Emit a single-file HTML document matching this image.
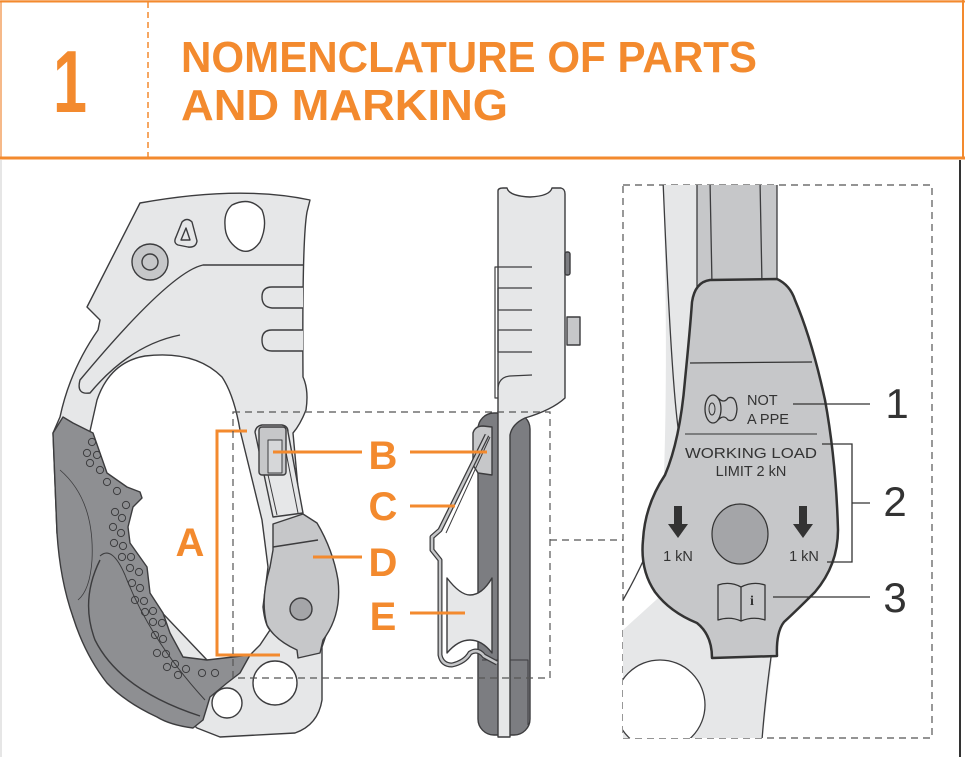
<!DOCTYPE html>
<html><head><meta charset="utf-8"><style>
html,body{margin:0;padding:0;background:#fff;}
svg{display:block;}
</style></head><body>
<svg width="965" height="757" viewBox="0 0 965 757" xmlns="http://www.w3.org/2000/svg" font-family="Liberation Sans, sans-serif">
<defs>
<clipPath id="rp"><rect x="623" y="185" width="309" height="553"/></clipPath>
</defs>
<!-- header -->
<rect x="1" y="1" width="962" height="157" fill="#fff" stroke="#f4a262" stroke-width="1.5"/>
<line x1="0" y1="1.5" x2="965" y2="1.5" stroke="#f38a2e" stroke-width="2"/>
<line x1="963" y1="0" x2="963" y2="158" stroke="#f38a2e" stroke-width="2"/>
<line x1="0" y1="158" x2="965" y2="158" stroke="#f38a2e" stroke-width="3"/>
<line x1="148" y1="2" x2="148" y2="157" stroke="#f38a2e" stroke-width="1.5" stroke-dasharray="6,4"/>
<text x="70" y="112" font-size="88" font-weight="bold" fill="#f38a2e" text-anchor="middle" textLength="34" lengthAdjust="spacingAndGlyphs">1</text>
<text x="181" y="72" font-size="44" font-weight="bold" fill="#f38a2e" textLength="576" lengthAdjust="spacingAndGlyphs">NOMENCLATURE OF PARTS</text>
<text x="181" y="120" font-size="44" font-weight="bold" fill="#f38a2e" textLength="327" lengthAdjust="spacingAndGlyphs">AND MARKING</text>
<line x1="960" y1="160" x2="960" y2="757" stroke="#333" stroke-width="2"/>
<line x1="1" y1="160" x2="1" y2="757" stroke="#ccc" stroke-width="1"/>

<g stroke="#3c3c3e" stroke-width="1.4" stroke-linejoin="round">
<!-- body -->
<path d="M140,203 Q240,185 310,200 L307,212 Q302,240 303,377 Q309,390 306,410 Q300,425 293,433 L300,510 L338,600 L322,647 L322,700 Q318,725 295,733 L220,737 L197,728 L73,617 L57,533 L53,433 L60,417 Q70,370 98,330 L100,320 L87,307 Z" fill="#e6e7e8"/>
<!-- hole -->
<path d="M88,440 L97,400 Q110,362 145,356 Q195,350 222,377 Q234,395 240,430 L262,520 L268,567 L263,607 Q265,625 270,630 L260,645 L250,655 Q220,662 207,660 L150,600 L100,500 Z" fill="#fff"/>
<path d="M303,265 L203,265 Q170,272 80,380 Q76,395 90,393 Q130,345 180,335" fill="none"/>
<!-- grip -->
<path d="M63,417 L73,423 L93,433 L107,473 L127,487 L140,492 L142,498 L133,507 L128,527 L130,543 L147,567 L150,593 L163,613 L170,633 L183,657 L207,660 L250,655 L240,673 L227,683 L210,697 L203,720 L193,728 Q170,725 157,717 Q125,702 107,683 Q85,655 73,617 Q60,580 57,533 L53,433 Z" fill="#8e8f92"/>
<path d="M100,560 Q80,600 95,640 Q120,690 200,716" fill="none"/>
<path d="M100,556 Q112,545 125,575 Q150,640 205,700" fill="none" stroke-width="1"/>
<path d="M60,470 Q95,500 92,560 Q90,590 78,600" fill="none" stroke-width="0.8"/>
<!-- top holes -->
<path d="M232,205 Q250,196 262,210 Q268,225 260,242 Q250,256 238,249 Q225,240 225,225 Q224,212 232,205 Z" fill="#fff"/>
<path d="M182,222 Q187,217 192,222 L197,241 Q196,248 188,247 L178,245 Q173,243 176,237 Z" fill="#e6e7e8"/>
<path d="M186,228 L190,240 L181,240 Z" fill="none"/>
<circle cx="150" cy="262" r="18" fill="#c6c7c9"/>
<circle cx="150" cy="262" r="8" fill="#c6c7c9"/>
<path d="M303,287 L272,287 Q262,287 262,297 Q262,307 272,308 L303,308" fill="#e6e7e8"/>
<path d="M303,330 L272,330 Q262,330 262,340 Q262,351 272,351 L303,351" fill="#e6e7e8"/>
<!-- bottom holes -->
<circle cx="275" cy="683" r="22" fill="#fff"/>
<circle cx="227" cy="703" r="15" fill="#fff"/>
<!-- latch slot -->
<path d="M255,432 Q256,426 262,425 L282,425 Q288,426 288,432 L303,513 L273,517 Z" fill="#e6e7e8"/>
<path d="M262,448 L277,515 M282,432 L298,513" fill="none" stroke-width="1"/>
<rect x="259" y="427" width="27" height="48" rx="3" fill="#c6c7c9"/>
<rect x="268" y="440" width="14" height="33" fill="#d6d7d9" stroke-width="1"/>
<!-- cam -->
<path d="M273,524 L303,514 L317,523 Q333,550 338,580 Q342,615 323,640 L320,653 L298,658 L297,650 Q275,640 267,625 Q260,600 270,567 L273,550 Z" fill="#c6c7c9"/>
<line x1="273" y1="547" x2="318" y2="540"/>
<circle cx="301" cy="609" r="11" fill="#a4a5a8"/>
</g>
<!-- dots -->
<g fill="none" stroke="#3c3c3e" stroke-width="1">
<circle cx="92" cy="442" r="3.6"/><circle cx="87" cy="453" r="3.6"/><circle cx="97" cy="455" r="3.6"/><circle cx="90" cy="463" r="3.6"/><circle cx="100" cy="470" r="3.6"/><circle cx="107" cy="482" r="3.6"/><circle cx="117" cy="491" r="3.6"/><circle cx="126" cy="505" r="3.6"/><circle cx="115" cy="512" r="3.6"/><circle cx="122" cy="518" r="3.6"/><circle cx="113" cy="527" r="3.6"/><circle cx="121" cy="533" r="3.6"/><circle cx="114" cy="543" r="3.6"/><circle cx="123" cy="546" r="3.6"/><circle cx="122" cy="557" r="3.6"/><circle cx="131" cy="557" r="3.6"/><circle cx="130" cy="568" r="3.6"/><circle cx="139" cy="572" r="3.6"/><circle cx="132" cy="583" r="3.6"/><circle cx="140" cy="588" r="3.6"/><circle cx="135" cy="600" r="3.6"/><circle cx="144" cy="601" r="3.6"/><circle cx="145" cy="612" r="3.6"/><circle cx="153" cy="611" r="3.6"/><circle cx="153" cy="622" r="3.6"/><circle cx="162" cy="623" r="3.6"/><circle cx="155" cy="635" r="3.6"/><circle cx="163" cy="639" r="3.6"/><circle cx="157" cy="653" r="3.6"/><circle cx="166" cy="654" r="3.6"/><circle cx="167" cy="667" r="3.6"/><circle cx="175" cy="664" r="3.6"/><circle cx="178" cy="675" r="3.6"/><circle cx="186" cy="669" r="3.6"/><circle cx="202" cy="673" r="3.6"/><circle cx="215" cy="673" r="3.6"/>
</g>

<!-- side view -->
<g stroke="#3c3c3e" stroke-width="1.4" stroke-linejoin="round">
<rect x="478" y="413" width="52" height="322" rx="16" fill="#7c7d81"/>
<path d="M482,660 L528,660 L528,725" fill="none" stroke-width="1"/>
<path d="M498,191 Q498,188 503,188 L507,188 Q509,196 530,197 Q550,196 552,188 L561,188 Q565,189 565,194 L565,398 Q552,410 525,418 Q512,424 510,435 L510,737 L498,737 Z" fill="#e6e7e8"/>
<rect x="565" y="252" width="5" height="23" rx="2" fill="#7c7d81"/>
<rect x="567" y="317" width="13" height="28" fill="#c6c7c9"/>
<path d="M532,267 L495,267 L495,398 L498,398 M498,288 L532,288 M498,310 L532,310 M498,330 L532,330 M498,352 L532,352 M498,288 L498,310 M498,330 L498,352 M498,390 Q498,377 510,376 L532,375" fill="none" stroke-width="1.2"/>
<line x1="498" y1="250" x2="498" y2="267" stroke-width="1"/>
<!-- latch -->
<path d="M473,433 Q475,426 483,426 L492,427 L492,475 L478,473 L473,465 Z" fill="#c6c7c9"/>
<!-- wire -->
<path d="M487,435 L440,530 L432,537 L432,550 L440,560 L440,655 Q442,665 452,665 Q465,662 470,653 Q478,648 484,656 L497,663" fill="none" stroke="#3c3c3e" stroke-width="5"/>
<path d="M487,435 L440,530 L432,537 L432,550 L440,560 L440,655 Q442,665 452,665 Q465,662 470,653 Q478,648 484,656 L497,663" fill="none" stroke="#c6c7c9" stroke-width="2.5"/>
<path d="M490,437 L446,533" fill="none" stroke="#3c3c3e" stroke-width="1"/>
<!-- pulley -->
<path d="M447,578 Q460,595 470,595 Q482,595 492,578 L492,653 Q482,640 470,640 Q458,640 447,653 Z" fill="#e6e7e8"/>
</g>

<!-- orange callouts left -->
<g stroke="#f38a2e" stroke-width="3" fill="none">
<path d="M247,431 L217,431 L217,655 L280,655"/>
<line x1="273" y1="452" x2="362" y2="452"/>
<line x1="410" y1="452" x2="487" y2="452"/>
<line x1="410" y1="506" x2="455" y2="506"/>
<line x1="313" y1="557" x2="362" y2="557"/>
<line x1="410" y1="613" x2="465" y2="613"/>
</g>
<g fill="#f38a2e" font-weight="bold" font-size="40" text-anchor="middle">
<text x="190" y="556">A</text>
<text x="383" y="469">B</text>
<text x="383" y="520">C</text>
<text x="383" y="576">D</text>
<text x="383" y="630">E</text>
</g>
<!-- dashed boxes -->
<g fill="none" stroke="#555" stroke-width="1.2" stroke-dasharray="7,5">
<rect x="233" y="412" width="317" height="266"/>
<line x1="550" y1="540" x2="623" y2="540"/>
<rect x="623" y="185" width="309" height="553"/>
</g>

<!-- right panel -->
<g clip-path="url(#rp)" stroke="#3c3c3e" stroke-width="1.3">
<path d="M663,180 L700,180 L700,560 L623,630 L623,760 L760,760 L772,660 L660,560 Q670,400 663,180 Z" fill="#e6e7e8" stroke="none"/>
<path d="M663,180 Q672,400 680,440" fill="none"/>
<path d="M623,600 Q640,570 650,545" fill="none"/>
<circle cx="660" cy="705" r="45" fill="#fff"/>
<path d="M772,650 Q765,700 762,740" fill="none"/>
<rect x="697" y="180" width="80" height="110" fill="#c6c7c9" stroke="none"/>
<path d="M697,180 L697,290 M710,180 L712,285 M760,180 L762,285 M777,180 L777,290" fill="none"/>
</g>
<g stroke="#333" stroke-linejoin="round">
<path d="M710,280 L777,279 Q790,285 795,300 Q812,340 825,400 Q836,460 838,530 Q838,565 815,592 Q795,612 784,622 Q776,632 777,656 L712,658 Q712,635 697,623 Q670,612 655,592 Q640,570 643,540 Q645,505 665,475 Q680,440 685,380 Q690,330 692,302 Q695,282 710,280 Z" fill="#c6c7c9" stroke-width="2.5"/>
<line x1="690" y1="363" x2="812" y2="362" stroke-width="1.2"/>
<line x1="685" y1="434" x2="817" y2="434" stroke-width="1"/>
<ellipse cx="740" cy="534" rx="28" ry="30" fill="#a4a5a8" stroke-width="1.2"/>
<ellipse cx="713" cy="409" rx="8" ry="14" fill="none" stroke-width="1.3"/>
<ellipse cx="712" cy="409" rx="3" ry="6" fill="none" stroke-width="1"/>
<path d="M718,398 Q724,404 728,398 Q736,395 737,409 Q736,423 728,420 Q724,414 718,420" fill="none" stroke-width="1.3"/>
<path d="M674,506 L682,506 L682,524 L688,524 L678,538 L668,524 L674,524 Z" fill="#333" stroke="none"/>
<path d="M799,506 L807,506 L807,524 L813,524 L803,538 L793,524 L799,524 Z" fill="#333" stroke="none"/>
<path d="M718,585 Q730,581 741,587 Q753,581 765,585 L765,620 Q753,616 741,621 Q730,616 718,620 Z M741,587 L741,621" fill="none" stroke-width="1.3"/>
</g>
<text x="752" y="605" font-family="Liberation Serif, serif" font-weight="bold" font-size="14" fill="#333" text-anchor="middle">i</text>
<g font-size="14.5" fill="#333">
<text x="747" y="405">NOT</text>
<text x="747" y="424">A PPE</text>
<text x="751" y="458" text-anchor="middle" textLength="132" lengthAdjust="spacingAndGlyphs">WORKING LOAD</text>
<text x="751" y="476" text-anchor="middle">LIMIT 2 kN</text>
<text x="678" y="561" text-anchor="middle">1 kN</text>
<text x="804" y="561" text-anchor="middle">1 kN</text>
</g>
<g stroke="#333" stroke-width="1.3" fill="none">
<line x1="793" y1="404" x2="870" y2="404"/>
<path d="M822,444 L852,444 L852,562 L827,562 M852,503 L870,503"/>
<line x1="773" y1="597" x2="870" y2="597"/>
</g>
<g font-size="42" fill="#333" text-anchor="middle">
<text x="897" y="418">1</text>
<text x="895" y="516">2</text>
<text x="895" y="612">3</text>
</g>
</svg>
</body></html>
